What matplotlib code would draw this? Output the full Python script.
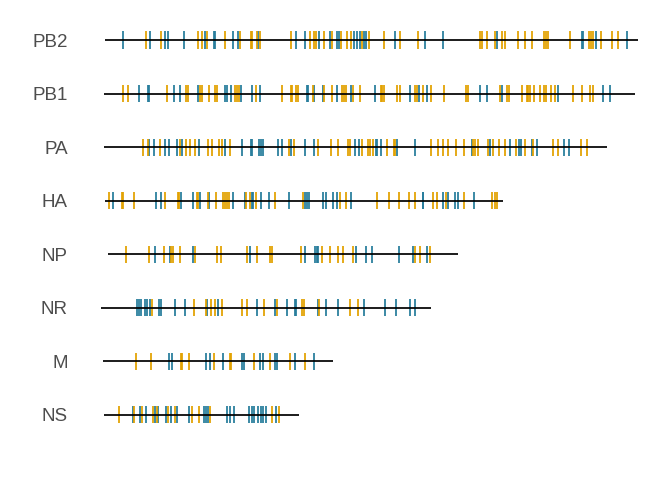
import matplotlib

matplotlib.use("Agg")
import matplotlib.pyplot as plt

# segment order, top to bottom
segments = ["PB2", "PB1", "PA", "HA", "NP", "NR", "M", "NS"]

# extent of each segment line (nt)
seg_start = [4, 0, 0, 4, 19, -12, -3, 0]
seg_end = [2344, 2331, 2208, 1753, 1554, 1437, 1007, 858]

# site positions (nt), teal group
teal_pos = {
    "PB2": [82, 203, 268, 280, 350, 442, 482, 489, 565, 587, 676, 843, 885, 945, 992,
            1024, 1030, 1099, 1111, 1123, 1143, 1152, 1279, 1408, 1488, 1724, 2098,
            2104, 2159, 2295],
    "PB1": [154, 193, 198, 306, 334, 414, 533, 539, 558, 600, 650, 685, 890, 894, 921,
            961, 1023, 1086, 1191, 1342, 1383, 1417, 1652, 1684, 1747, 1994, 2192, 2224],
    "PA": [198, 220, 266, 285, 320, 341, 416, 533, 606, 644, 648, 680, 689, 698, 765,
           780, 820, 885, 923, 1102, 1119, 1194, 1200, 1216, 1289, 1367, 1614, 1696,
           1782, 1823, 1831, 1880, 1902, 2018, 2040],
    "HA": [41, 228, 249, 338, 391, 423, 461, 566, 619, 648, 655, 689, 724, 811, 881,
           891, 901, 960, 975, 1008, 1024, 1087, 1399, 1403, 1491, 1513, 1541, 1554, 1627],
    "NP": [224, 290, 391, 641, 885, 926, 934, 938, 1109, 1149, 1175, 1296, 1357, 1417],
    "NR": [146, 155, 162, 181, 190, 201, 241, 249, 312, 356, 451, 500, 673, 752, 803,
           838, 843, 938, 975, 1026, 1140, 1235, 1281, 1345, 1368],
    "M": [285, 297, 448, 464, 524, 605, 613, 684, 698, 749, 761, 839, 923],
    "NS": [126, 158, 184, 224, 238, 271, 293, 322, 373, 439, 446, 455, 539, 554, 569,
           635, 651, 657, 676, 689, 698, 710, 754],
}

# site positions (nt), gold group
gold_pos = {
    "PB2": [183, 250, 411, 432, 453, 530, 596, 644, 650, 670, 684, 820, 907, 922, 929,
            967, 1001, 1042, 1068, 1083, 1133, 1165, 1231, 1298, 1377, 1651, 1658, 1681,
            1718, 1747, 1762, 1817, 1848, 1879, 1932, 1940, 1949, 2047, 2131, 2139,
            2148, 2182, 2233, 2258],
    "PB1": [82, 105, 275, 361, 370, 421, 429, 460, 486, 495, 576, 584, 591, 667, 784,
            820, 827, 843, 853, 916, 966, 1000, 1046, 1055, 1064, 1092, 1125, 1216,
            1223, 1231, 1285, 1299, 1368, 1375, 1403, 1436, 1493, 1589, 1597, 1740,
            1771, 1778, 1834, 1857, 1861, 1873, 1889, 1914, 1933, 1940, 1961, 1979,
            2060, 2101, 2134, 2148],
    "PA": [170, 192, 247, 334, 359, 379, 398, 455, 473, 504, 519, 552, 813, 833, 938,
           995, 1026, 1072, 1080, 1134, 1160, 1169, 1180, 1244, 1272, 1279, 1434, 1465,
           1491, 1510, 1547, 1580, 1621, 1629, 1642, 1687, 1709, 1733, 1762, 1809, 1847,
           1886, 1972, 1996, 2093, 2123],
    "HA": [21, 78, 85, 130, 266, 324, 329, 408, 414, 455, 490, 524, 531, 539, 547, 623,
           641, 669, 749, 874, 1035, 1062, 1197, 1250, 1295, 1339, 1368, 1447, 1461,
           1501, 1582, 1702, 1718, 1728],
    "NP": [98, 198, 265, 295, 302, 334, 398, 495, 514, 626, 673, 727, 739, 864, 956,
           993, 1026, 1048, 1094, 1367, 1387, 1431],
    "NR": [212, 394, 446, 470, 486, 517, 606, 628, 705, 761, 871, 877, 943, 1081, 1114],
    "M": [139, 206, 337, 344, 374, 483, 553, 559, 659, 727, 815, 882],
    "NS": [66, 130, 166, 215, 231, 281, 310, 386, 418, 467, 738, 770],
}

TEAL = "#267D9C"
GOLD = "#E2A100"
HALF = 0.16

fig = plt.figure(figsize=(6.72, 4.8), dpi=100)
ax = fig.add_axes([0.1479, 0.0687, 0.8201, 0.9148])

for i, seg in enumerate(segments):
    # ticks first, backbone line drawn over them
    ax.vlines(teal_pos[seg], i - HALF, i + HALF, color=TEAL, lw=1.4, alpha=0.9, zorder=1)
    ax.vlines(gold_pos[seg], i - HALF, i + HALF, color=GOLD, lw=1.4, alpha=0.9, zorder=1)
    ax.hlines(i, seg_start[i], seg_end[i], color="black", lw=1.25, zorder=2)

ax.set_xlim(-20, 2400)
ax.set_ylim(len(segments) - 1 + 0.6, -0.6)
ax.set_yticks(range(len(segments)))
ax.set_yticklabels(segments, fontsize=13.5, color="#4D4D4D", family="Liberation Sans")
ax.tick_params(axis="y", length=0, pad=22.6)
ax.set_xticks([])
for sp in ax.spines.values():
    sp.set_visible(False)

fig.savefig("out.png", dpi=100)
